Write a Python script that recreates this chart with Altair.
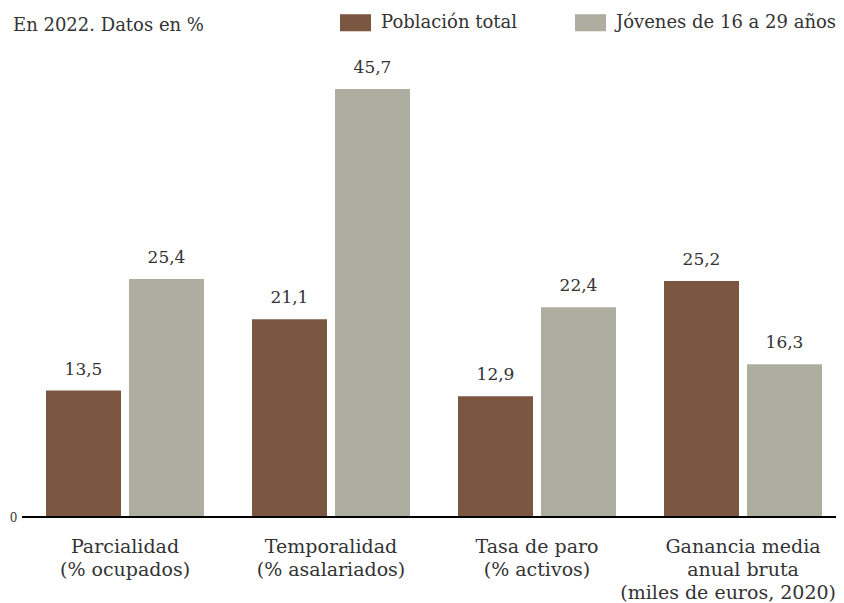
import altair as alt
import pandas as pd

categories = ["Parcialidad\n(% ocupados)", "Temporalidad\n(% asalariados)",
              "Tasa de paro\n(% activos)", "Ganancia media\nanual bruta\n(miles de euros, 2020)"]
series = ["Población total", "Jóvenes de 16 a 29 años"]
poblacion_total = [13.5, 21.1, 12.9, 25.2]
jovenes = [25.4, 45.7, 22.4, 16.3]
colors = ["#7b5640", "#adaea0"]

rows = []
for c, a, b in zip(categories, poblacion_total, jovenes):
    rows.append({"cat": c, "serie": series[0], "valor": a})
    rows.append({"cat": c, "serie": series[1], "valor": b})
df = pd.DataFrame(rows)

FONT = "DejaVu Serif"
TXT = "#333333"
W, H = 814, 469
LAB_PAD, LAB_LH = 20, 23.5

base = alt.Chart(df).transform_calculate(
    lab="replace(format(datum.valor, '.1f'), '.', ',')"
)

# the long third line of the last label is set flush with the chart's right edge
long_line = categories[-1].split("\n")[-1]
label_expr = ("indexof(datum.label, '2020') >= 0 ? "
              "slice(split(datum.label, '\\n'), 0, 2) : split(datum.label, '\\n')")

x = alt.X("cat:N", sort=categories, title=None,
          scale=alt.Scale(range=[24, 800], paddingInner=0.233, paddingOuter=0),
          axis=alt.Axis(labelAngle=0, domain=False, ticks=False,
                        labelExpr=label_expr,
                        labelFont=FONT, labelFontSize=19, labelColor=TXT,
                        labelLineHeight=LAB_LH, labelPadding=LAB_PAD, labelBaseline="top",
                        labelLimit=400))
xo = alt.XOffset("serie:N", sort=series, scale=alt.Scale(paddingInner=0.0964, paddingOuter=0))
y = alt.Y("valor:Q", title=None,
          scale=alt.Scale(domain=[0, 50.07], nice=False),
          axis=alt.Axis(values=[0], grid=False, domain=False, ticks=False,
                        labelFont=FONT, labelFontSize=12, labelColor=TXT,
                        labelPadding=5))
color = alt.Color("serie:N", sort=series, title=None,
                  scale=alt.Scale(domain=series, range=colors),
                  legend=alt.Legend(orient="none", legendX=318, legendY=-41,
                                    direction="horizontal",
                                    symbolType="M-1,-0.55H1V0.55H-1Z",
                                    symbolSize=961, symbolOpacity=1,
                                    symbolStrokeWidth=0,
                                    labelFont=FONT, labelFontSize=18,
                                    labelColor=TXT, labelOffset=10,
                                    columnPadding=57, padding=0,
                                    labelLimit=400))

bars = base.mark_bar().encode(x=x, xOffset=xo, y=y, color=color)
labels = base.mark_text(baseline="alphabetic", dy=-16, font=FONT, fontSize=17,
                        color=TXT).encode(
    x=alt.X("cat:N", sort=categories), xOffset=alt.XOffset("serie:N", sort=series),
    y="valor:Q", text="lab:N")

baseline = alt.Chart(pd.DataFrame({"v": [0]})).mark_rule(color="#000000", strokeWidth=2).encode(
    x=alt.value(0), x2=alt.value(W), y=alt.Y("v:Q"))

header = alt.Chart(pd.DataFrame({"t": ["En 2022. Datos en %"]})).mark_text(
    align="left", baseline="alphabetic", font=FONT, fontSize=18, color=TXT
).encode(x=alt.value(-9), y=alt.value(-17), text="t:N")

extra_line = alt.Chart(pd.DataFrame({"t": [long_line]})).mark_text(
    align="right", baseline="top", font=FONT, fontSize=19, color=TXT
).encode(x=alt.value(W), y=alt.value(H + LAB_PAD + 2 * LAB_LH), text="t:N")

chart = alt.layer(bars, labels, baseline, header, extra_line).properties(
    width=W, height=H,
    padding={"left": 14, "top": 40, "right": 0, "bottom": 86},
    autosize=alt.AutoSizeParams(type="none"),
).configure(font=FONT).configure_view(strokeWidth=0, stroke=None)

chart.save("out.html", embed_options={"renderer": "svg", "actions": False})
